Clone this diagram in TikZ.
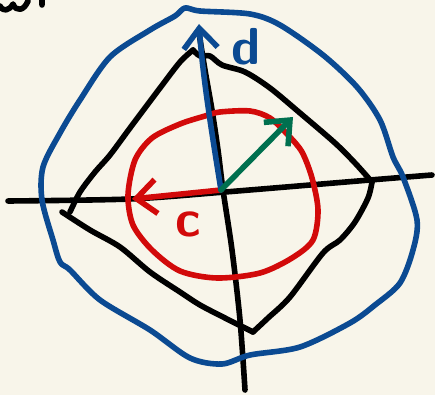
\documentclass[tikz,border=0pt]{standalone}
\usetikzlibrary{arrows.meta}
\definecolor{bgcream}{HTML}{F8F5EA}
\definecolor{penblue}{HTML}{0B4A92}
\definecolor{penred}{HTML}{D20A0A}
\definecolor{pengreen}{HTML}{00704F}
\begin{document}
\begin{tikzpicture}[x=1pt,y=-1pt,line width=5.6pt,line cap=round,line join=round,
  barb/.style={-{Straight Barb[length=20pt,width=34pt,line width=5.6pt]}},
  hand/.style={font=\sffamily\bfseries\fontsize{52}{52}\selectfont,inner sep=0pt}]
\fill[bgcream] (0,0) rectangle (435,395);
\useasboundingbox (0,0) rectangle (435,395);
% scrap of a word cut off at the top edge
\draw (0,6) .. controls (3,12) and (9,11) .. (13,4) .. controls (16,12) and (24,11) .. (28,1) (42,0)--(42,5);
% axes
\draw plot[smooth] coordinates {(8,201) (130,199) (225,192) (370,180) (432,175)};
\draw plot[smooth] coordinates {(199,33) (205,70) (212,110) (218,150) (223,190) (232,250) (240,320) (245,390)};
% black diamond
\draw plot[smooth] coordinates {(70,212) (80,192) (95,172) (110,155) (130,128) (160,88) (180,62) (193,50)};
\draw plot[smooth] coordinates {(193,50) (200,56) (210,56) (222,65) (245,72) (270,88) (300,113) (335,143) (355,163) (372,182)};
\draw plot[smooth] coordinates {(372,182) (368,198) (355,222) (340,240) (323,253) (290,297) (268,318) (253,332)};
\draw plot[smooth] coordinates {(253,332) (245,328) (225,318) (200,305) (180,292) (150,272) (120,247) (90,230) (62,212)};
% red circle
\draw[penred] plot[smooth cycle] coordinates {(220,112) (250,111) (270,118) (288,135) (302,152) (312,178) (318,210) (313,240) (292,258) (260,273) (217,278) (180,271) (152,250) (133,225) (128,195) (135,160) (152,138) (180,124) (205,116)};
% blue loop
\draw[penblue] plot[smooth cycle] coordinates {(200,11) (250,14) (280,25) (323,55) (357,87) (380,120) (393,157) (403,177) (417,220) (413,250) (400,283) (375,305) (350,323) (300,347) (250,355) (222,364) (190,358) (150,330) (100,300) (70,270) (60,262) (53,240) (42,200) (43,167) (60,133) (80,100) (110,57) (150,30) (175,16) (185,8)};
% vectors from the origin
\coordinate (O) at (221,190);
\coordinate (ctip) at (132,199);
\coordinate (dtip) at (199,24);
\coordinate (gtip) at (293,117);
\draw[penred,barb] (O) -- (ctip);
\draw[penblue,barb] (O) .. controls (213,140) and (203,80) .. (dtip);
\draw[pengreen,barb] (O) -- (gtip);
\node[hand,text=penblue] (dlab) at (246,47) {d};
\node[hand,text=penred] (clab) at (188,224) {c};
\end{tikzpicture}
\end{document}
